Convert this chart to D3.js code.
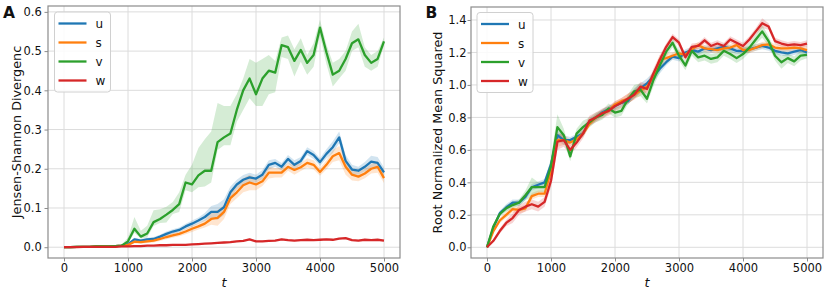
<!DOCTYPE html>
<html>
<head>
<meta charset="utf-8">
<script src="https://d3js.org/d3.v7.min.js"></script>
<style>
  body { margin: 0; background: #fff; }
  svg text { font-family: "DejaVu Sans", sans-serif; fill: #111; }
</style>
</head>
<body>
<svg width="827" height="290" class="chart"></svg>
<script>
  // training steps (x values)
  const steps = [0,100,200,300,400,500,600,700,800,900,
    1000,1100,1200,1300,1400,1500,1600,1700,1800,1900,
    2000,2100,2200,2300,2400,2500,2600,2700,2800,2900,
    3000,3100,3200,3300,3400,3500,3600,3700,3800,3900,
    4000,4100,4200,4300,4400,4500,4600,4700,4800,4900,5000];

  const seriesNames = ["u", "s", "v", "w"];
  const seriesColors = ["#1f77b4", "#ff7f0e", "#2ca02c", "#d62728"];

  const xTicks = [0, 1000, 2000, 3000, 4000, 5000];
  const jsdTicks = [0.0, 0.1, 0.2, 0.3, 0.4, 0.5, 0.6];
  const rnmseTicks = [0.0, 0.2, 0.4, 0.6, 0.8, 1.0, 1.2, 1.4];

  // panel A : Jensen-Shannon divergence (mean)
  const jsdU = [0,0,0.001,0.001,0.001,0.002,0.002,0.002,0.003,0.004,
    0.008,0.02,0.017,0.02,0.021,0.027,0.034,0.04,0.044,0.053,
    0.06,0.068,0.077,0.09,0.09,0.102,0.14,0.16,0.172,0.178,
    0.175,0.185,0.21,0.215,0.205,0.225,0.21,0.22,0.245,0.235,
    0.217,0.238,0.255,0.28,0.22,0.198,0.195,0.205,0.218,0.215,0.191];
  const jsdS = [0,0,0.001,0.001,0.001,0.002,0.002,0.002,0.003,0.004,
    0.006,0.014,0.013,0.015,0.017,0.021,0.026,0.03,0.034,0.04,
    0.047,0.053,0.06,0.072,0.075,0.09,0.125,0.14,0.158,0.165,
    0.16,0.168,0.19,0.19,0.19,0.205,0.197,0.204,0.215,0.21,
    0.192,0.21,0.232,0.24,0.205,0.185,0.18,0.188,0.2,0.205,0.176];
  const jsdV = [0,0,0.001,0.001,0.001,0.002,0.002,0.002,0.003,0.004,
    0.015,0.047,0.027,0.035,0.064,0.072,0.083,0.095,0.11,0.165,
    0.16,0.183,0.195,0.195,0.268,0.28,0.29,0.35,0.40,0.43,
    0.39,0.43,0.45,0.445,0.515,0.51,0.475,0.503,0.47,0.49,
    0.56,0.497,0.44,0.45,0.48,0.52,0.53,0.49,0.47,0.48,0.525];
  const jsdW = [0,0,0,0.001,0.001,0.001,0.001,0.001,0.001,0.002,
    0.002,0.003,0.003,0.004,0.004,0.005,0.005,0.006,0.006,0.006,
    0.007,0.008,0.009,0.01,0.011,0.012,0.013,0.015,0.016,0.02,
    0.015,0.015,0.016,0.017,0.02,0.018,0.017,0.018,0.019,0.018,
    0.019,0.02,0.019,0.022,0.023,0.018,0.017,0.019,0.018,0.019,0.017];

  // panel A : spread of the runs (shaded band)
  const jsdSpreadU = [0,0,0,0,0,0,0,0,0.001,0.001,
    0.003,0.004,0.004,0.004,0.005,0.005,0.006,0.006,0.006,0.007,
    0.008,0.008,0.01,0.015,0.02,0.02,0.015,0.012,0.012,0.012,
    0.01,0.012,0.012,0.01,0.01,0.01,0.012,0.01,0.01,0.01,
    0.01,0.012,0.015,0.015,0.015,0.012,0.01,0.012,0.015,0.015,0.012];
  const jsdSpreadS = [0,0,0,0,0,0,0,0,0.001,0.001,
    0.003,0.004,0.004,0.004,0.005,0.005,0.006,0.006,0.006,0.007,
    0.008,0.008,0.01,0.015,0.02,0.018,0.015,0.015,0.018,0.02,
    0.015,0.012,0.015,0.012,0.012,0.01,0.012,0.01,0.012,0.012,
    0.01,0.012,0.015,0.018,0.02,0.015,0.012,0.012,0.012,0.015,0.012];
  const jsdUpV = [0,0,0,0,0,0,0,0,0.001,0.002,
    0.01,0.03,0.015,0.02,0.03,0.025,0.02,0.02,0.03,0.02,
    0.05,0.07,0.08,0.1,0.1,0.08,0.07,0.04,0.03,0.05,
    0.08,0.05,0.04,0.03,0.02,0.03,0.03,0.03,0.02,0.03,
    0.02,0.02,0.03,0.03,0.02,0.03,0.04,0.02,0.02,0.02,0.01];
  const jsdDownV = [0,0,0,0,0,0,0,0,0.001,0.002,
    0.005,0.01,0.005,0.01,0.01,0.01,0.02,0.01,0.02,0.02,
    0.02,0.03,0.04,0.03,0.02,0.02,0.03,0.03,0.05,0.05,
    0.03,0.07,0.06,0.05,0.03,0.03,0.04,0.03,0.03,0.03,
    0.02,0.03,0.03,0.02,0.03,0.02,0.02,0.03,0.02,0.02,0.01];
  const jsdSpreadW = [0,0,0,0,0,0,0,0,0,0,
    0.001,0.001,0.001,0.001,0.001,0.001,0.001,0.001,0.001,0.001,
    0.001,0.001,0.001,0.001,0.001,0.002,0.002,0.002,0.002,0.002,
    0.002,0.002,0.002,0.002,0.002,0.002,0.002,0.002,0.002,0.002,
    0.002,0.002,0.002,0.002,0.002,0.002,0.002,0.002,0.002,0.002,0.002];

  // panel B : root normalized mean squared error (mean)
  const rnmseU = [0,0.12,0.21,0.245,0.275,0.275,0.31,0.37,0.385,0.40,
    0.51,0.69,0.66,0.66,0.68,0.70,0.77,0.80,0.83,0.85,
    0.87,0.89,0.90,0.95,0.98,1.01,1.05,1.10,1.14,1.175,
    1.165,1.20,1.215,1.205,1.225,1.215,1.225,1.235,1.225,1.21,
    1.21,1.22,1.23,1.24,1.23,1.21,1.20,1.195,1.205,1.215,1.2];
  const rnmseS = [0,0.10,0.165,0.2,0.235,0.23,0.24,0.315,0.33,0.33,
    0.47,0.66,0.66,0.645,0.665,0.70,0.76,0.80,0.825,0.84,
    0.88,0.90,0.915,0.94,0.965,0.99,1.05,1.155,1.165,1.18,
    1.195,1.185,1.22,1.245,1.225,1.22,1.215,1.225,1.23,1.245,
    1.215,1.215,1.23,1.245,1.25,1.23,1.225,1.225,1.23,1.225,1.215];
  const rnmseV = [0,0.13,0.205,0.24,0.26,0.275,0.32,0.37,0.37,0.37,
    0.50,0.74,0.69,0.56,0.70,0.74,0.77,0.80,0.815,0.855,
    0.83,0.84,0.91,0.96,0.97,0.915,1.03,1.12,1.205,1.26,
    1.18,1.12,1.21,1.17,1.18,1.16,1.17,1.21,1.19,1.165,
    1.19,1.23,1.28,1.33,1.27,1.18,1.14,1.165,1.145,1.18,1.185];
  const rnmseW = [0,0.04,0.10,0.15,0.18,0.23,0.25,0.265,0.25,0.28,
    0.41,0.65,0.66,0.60,0.645,0.70,0.78,0.80,0.825,0.84,
    0.87,0.89,0.915,0.94,0.99,0.975,1.07,1.155,1.235,1.295,
    1.26,1.17,1.235,1.24,1.275,1.24,1.255,1.24,1.28,1.26,
    1.24,1.28,1.33,1.38,1.36,1.27,1.255,1.245,1.25,1.245,1.255];

  // panel B : spread of the runs
  const rnmseSpreadU = [0,0.01,0.015,0.02,0.02,0.02,0.02,0.02,0.02,0.02,
    0.03,0.03,0.03,0.02,0.02,0.02,0.02,0.02,0.02,0.02,
    0.02,0.02,0.02,0.03,0.03,0.03,0.03,0.03,0.02,0.02,
    0.02,0.02,0.02,0.02,0.02,0.02,0.02,0.02,0.02,0.02,
    0.02,0.02,0.02,0.02,0.02,0.02,0.02,0.02,0.02,0.02,0.02];
  const rnmseSpreadS = [0,0.01,0.015,0.02,0.02,0.02,0.02,0.02,0.02,0.02,
    0.03,0.04,0.03,0.02,0.02,0.02,0.02,0.02,0.02,0.02,
    0.02,0.02,0.03,0.03,0.03,0.03,0.03,0.03,0.03,0.02,
    0.02,0.02,0.02,0.02,0.02,0.02,0.02,0.02,0.02,0.02,
    0.02,0.02,0.02,0.02,0.02,0.02,0.02,0.02,0.02,0.02,0.02];
  const rnmseSpreadV = [0,0.01,0.015,0.02,0.02,0.02,0.03,0.06,0.03,0.03,
    0.05,0.08,0.04,0.03,0.03,0.04,0.03,0.03,0.03,0.03,
    0.03,0.03,0.03,0.04,0.04,0.03,0.04,0.04,0.03,0.03,
    0.03,0.03,0.03,0.03,0.03,0.03,0.03,0.03,0.03,0.03,
    0.03,0.03,0.03,0.04,0.03,0.03,0.04,0.03,0.03,0.03,0.02];
  const rnmseSpreadW = [0,0.01,0.015,0.02,0.03,0.03,0.03,0.03,0.03,0.03,
    0.04,0.05,0.04,0.03,0.03,0.03,0.03,0.03,0.03,0.03,
    0.03,0.03,0.03,0.03,0.03,0.03,0.03,0.03,0.02,0.02,
    0.02,0.02,0.02,0.02,0.02,0.02,0.02,0.02,0.02,0.02,
    0.02,0.02,0.02,0.03,0.02,0.02,0.02,0.02,0.02,0.02,0.02];

  const svg = d3.select(".chart");

  function drawPanel(cfg) {
    const x = d3.scaleLinear().domain([-250, 5250]).range([cfg.left, cfg.right]);
    const y = d3.scaleLinear().domain(cfg.yDomain).range([cfg.bottom, cfg.top]);
    const g = svg.append("g");

    // grid
    g.selectAll(".gx").data(xTicks).enter().append("line")
      .attr("x1", d => x(d)).attr("x2", d => x(d))
      .attr("y1", cfg.top).attr("y2", cfg.bottom)
      .attr("stroke", "#dcdcdc").attr("stroke-width", 1);
    g.selectAll(".gy").data(cfg.yTicks).enter().append("line")
      .attr("x1", cfg.left).attr("x2", cfg.right)
      .attr("y1", d => y(d)).attr("y2", d => y(d))
      .attr("stroke", "#dcdcdc").attr("stroke-width", 1);

    // bands then lines
    cfg.series.forEach((s, k) => {
      const area = d3.area()
        .x((d, i) => x(steps[i]))
        .y0((d, i) => y(d - s.down[i]))
        .y1((d, i) => y(d + s.up[i]));
      g.append("path").datum(s.values)
        .attr("d", area)
        .attr("fill", seriesColors[k])
        .attr("fill-opacity", 0.2)
        .attr("stroke", "none");
    });
    cfg.series.forEach((s, k) => {
      const line = d3.line().x((d, i) => x(steps[i])).y(d => y(d));
      g.append("path").datum(s.values)
        .attr("d", line)
        .attr("fill", "none")
        .attr("stroke", seriesColors[k])
        .attr("stroke-width", 2.3)
        .attr("stroke-linejoin", "round");
    });

    // axes
    const xa = g.append("g")
      .attr("transform", "translate(0," + cfg.bottom + ")")
      .call(d3.axisBottom(x).tickValues(xTicks).tickSize(3.5).tickPadding(2.5)
        .tickFormat(d3.format("d")));
    const ya = g.append("g")
      .attr("transform", "translate(" + cfg.left + ",0)")
      .call(d3.axisLeft(y).tickValues(cfg.yTicks).tickSize(3.5).tickPadding(cfg.yPad)
        .tickFormat(d3.format(".1f")));
    [xa, ya].forEach(a => {
      a.select(".domain").remove();
      a.selectAll(".tick line").attr("stroke", "#8c8c8c");
      a.selectAll("text").style("font-size", "11.5px")
        .style("font-family", "DejaVu Sans, sans-serif").attr("fill", "#111");
    });

    // frame
    g.append("rect")
      .attr("x", cfg.left).attr("y", cfg.top)
      .attr("width", cfg.right - cfg.left).attr("height", cfg.bottom - cfg.top)
      .attr("fill", "none").attr("stroke", "#8c8c8c").attr("stroke-width", 1.2);

    // labels
    g.append("text")
      .attr("transform", "translate(" + cfg.yLabelX + "," + (cfg.top + cfg.bottom) / 2 + ") rotate(-90)")
      .attr("text-anchor", "middle")
      .style("font-size", "12.8px")
      .text(cfg.yLabel);
    g.append("text")
      .attr("x", (cfg.left + cfg.right) / 2).attr("y", 287)
      .attr("text-anchor", "middle")
      .style("font-size", "12.8px").style("font-style", "italic")
      .text("t");
    g.append("text")
      .attr("x", cfg.letterX).attr("y", 18)
      .style("font-size", "15.5px").style("font-weight", "bold")
      .text(cfg.letter);

    // legend
    const lg = g.append("g").attr("transform", "translate(" + cfg.legendX + "," + cfg.legendY + ")");
    lg.append("rect")
      .attr("width", 56).attr("height", 80).attr("rx", 3)
      .attr("fill", "#fff").attr("fill-opacity", 0.85)
      .attr("stroke", "#d0d0d0").attr("stroke-width", 1);
    seriesNames.forEach((name, k) => {
      const yy = 11.5 + k * 19;
      lg.append("line")
        .attr("x1", 4).attr("x2", 32).attr("y1", yy).attr("y2", yy)
        .attr("stroke", seriesColors[k]).attr("stroke-width", 2.3);
      lg.append("text")
        .attr("x", 41).attr("y", yy + 4.5)
        .style("font-size", "12px")
        .text(name);
    });
  }

  drawPanel({
    left: 48, right: 400, top: 6, bottom: 258,
    yDomain: [-0.0275, 0.615], yTicks: jsdTicks, yPad: 2.8,
    yLabel: "Jensen-Shannon Divergenc", yLabelX: 20.5,
    letter: "A", letterX: 3, legendX: 54.5, legendY: 12,
    series: [
      {values: jsdU, up: jsdSpreadU, down: jsdSpreadU},
      {values: jsdS, up: jsdSpreadS, down: jsdSpreadS},
      {values: jsdV, up: jsdUpV, down: jsdDownV},
      {values: jsdW, up: jsdSpreadW, down: jsdSpreadW}
    ]
  });

  drawPanel({
    left: 471, right: 823, top: 7, bottom: 258,
    yDomain: [-0.066, 1.48], yTicks: rnmseTicks, yPad: 1,
    yLabel: "Root Normalized Mean Squared", yLabelX: 442,
    letter: "B", letterX: 425.5, legendX: 477, legendY: 12.5,
    series: [
      {values: rnmseU, up: rnmseSpreadU, down: rnmseSpreadU},
      {values: rnmseS, up: rnmseSpreadS, down: rnmseSpreadS},
      {values: rnmseV, up: rnmseSpreadV, down: rnmseSpreadV},
      {values: rnmseW, up: rnmseSpreadW, down: rnmseSpreadW}
    ]
  });
</script>
</body>
</html>
